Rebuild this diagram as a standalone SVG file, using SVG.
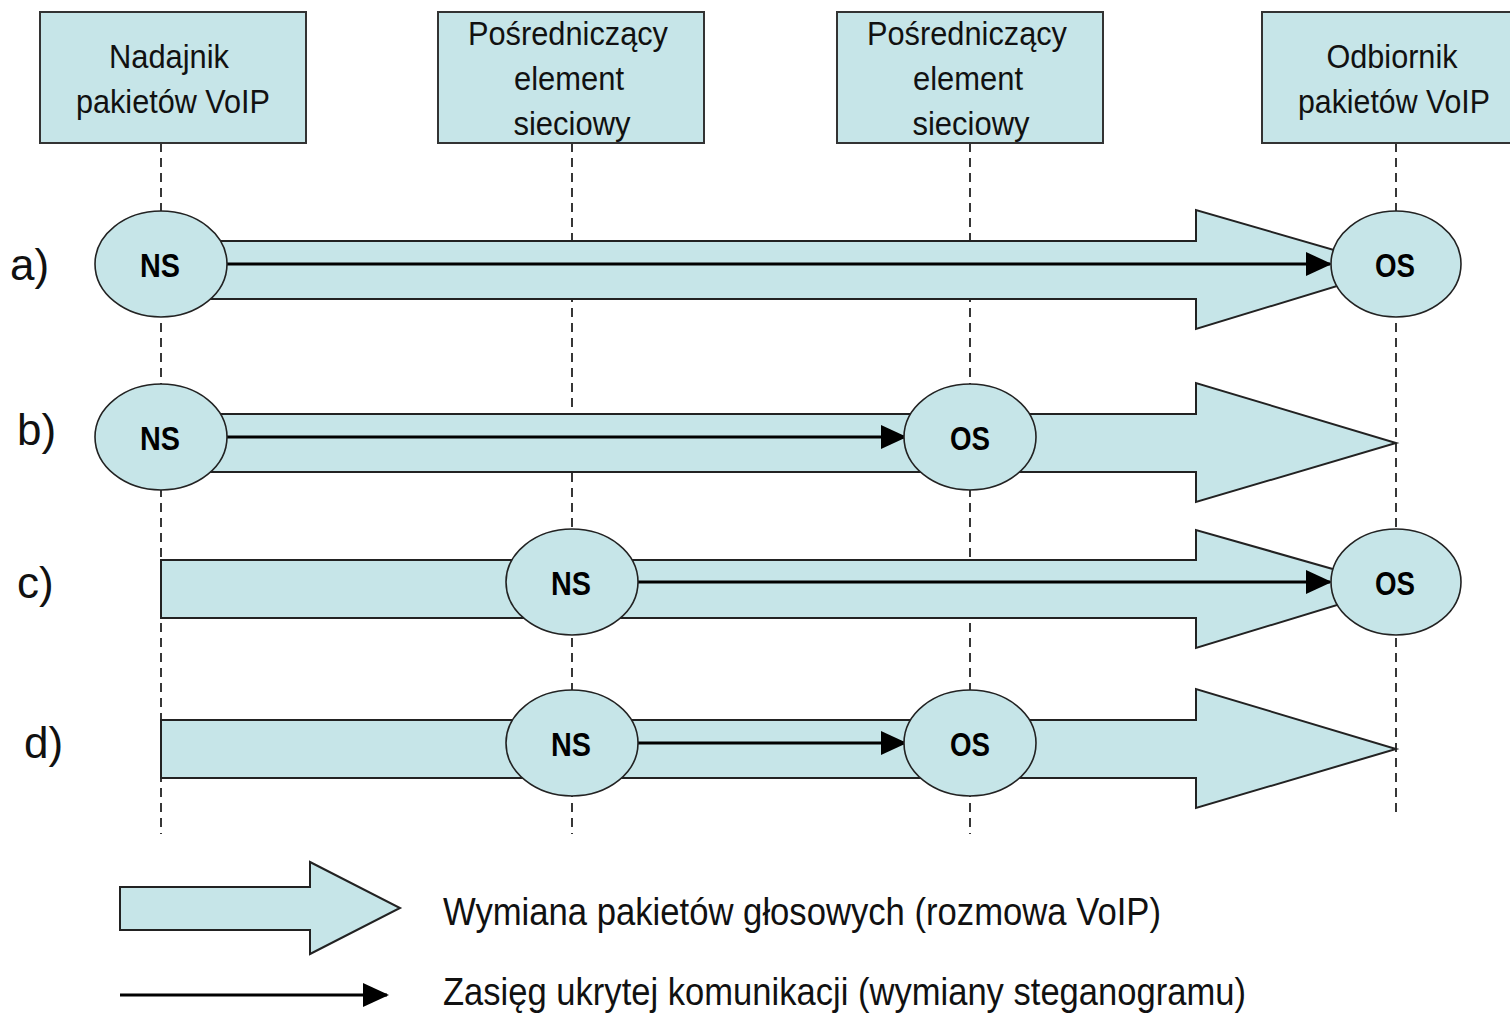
<svg xmlns="http://www.w3.org/2000/svg" width="1510" height="1014" viewBox="0 0 1510 1014">
  <style>
    .box { fill: #C6E5E8; stroke: #333; stroke-width: 2; }
    .fat { fill: #C6E5E8; stroke: #222; stroke-width: 2; }
    .node { fill: #C6E5E8; stroke: #222; stroke-width: 1.6; }
    .life { stroke: #222; stroke-width: 1.8; stroke-dasharray: 9 6; fill: none; }
    .thin { stroke: #000; stroke-width: 3; fill: none; marker-end: url(#tip); }
    .head { font-family: "Liberation Sans Narrow", "Liberation Sans", Arial, sans-serif; font-size: 34px; fill: #111; text-anchor: middle; }
    .ns { font-family: "Liberation Sans Narrow", "Liberation Sans", Arial, sans-serif; font-size: 33px; font-weight: bold; fill: #000; text-anchor: middle; }
    .row { font-family: "Liberation Sans", Arial, sans-serif; font-size: 44px; fill: #111; }
    .leg { font-family: "Liberation Sans Narrow", "Liberation Sans", Arial, sans-serif; font-size: 38px; fill: #111; }
  </style>
  <defs>
    <marker id="tip" markerUnits="userSpaceOnUse" markerWidth="26" markerHeight="26" viewBox="0 0 26 26" refX="24" refY="13" orient="auto">
      <path d="M0,1 L26,13 L0,25 Z" fill="#000"/>
    </marker>
  </defs>
  <rect width="1510" height="1014" fill="#fff"/>

  <!-- lifelines -->
  <g id="lifelines">
    <line class="life" x1="161" y1="143" x2="161" y2="834"/>
    <line class="life" x1="572" y1="143" x2="572" y2="834"/>
    <line class="life" x1="970" y1="143" x2="970" y2="834"/>
    <line class="life" x1="1396" y1="143" x2="1396" y2="816"/>
  </g>

  <!-- participants -->
  <g id="sender">
    <rect class="box" x="40" y="12" width="266" height="131"/>
    <text class="head" x="169" y="68" textLength="120" lengthAdjust="spacingAndGlyphs">Nadajnik</text>
    <text class="head" x="173" y="113" textLength="194" lengthAdjust="spacingAndGlyphs">pakietów VoIP</text>
  </g>
  <g id="relay1">
    <rect class="box" x="438" y="12" width="266" height="131"/>
    <text class="head" x="568" y="45" textLength="200" lengthAdjust="spacingAndGlyphs">Pośredniczący</text>
    <text class="head" x="569" y="90" textLength="110" lengthAdjust="spacingAndGlyphs">element</text>
    <text class="head" x="572" y="135" textLength="117" lengthAdjust="spacingAndGlyphs">sieciowy</text>
  </g>
  <g id="relay2">
    <rect class="box" x="837" y="12" width="266" height="131"/>
    <text class="head" x="967" y="45" textLength="200" lengthAdjust="spacingAndGlyphs">Pośredniczący</text>
    <text class="head" x="968" y="90" textLength="110" lengthAdjust="spacingAndGlyphs">element</text>
    <text class="head" x="971" y="135" textLength="117" lengthAdjust="spacingAndGlyphs">sieciowy</text>
  </g>
  <g id="receiver">
    <rect class="box" x="1262" y="12" width="251" height="131"/>
    <text class="head" x="1392" y="68" textLength="131" lengthAdjust="spacingAndGlyphs">Odbiornik</text>
    <text class="head" x="1394" y="113" textLength="192" lengthAdjust="spacingAndGlyphs">pakietów VoIP</text>
  </g>

  <!-- row labels -->
  <g id="labels">
    <text class="row" x="10" y="280">a)</text>
    <text class="row" x="17" y="445">b)</text>
    <text class="row" x="17" y="598">c)</text>
    <text class="row" x="24" y="758">d)</text>
  </g>

  <!-- voice traffic (block arrows) -->
  <g id="voice">
    <path class="fat" d="M161,241 H1196 V210 L1396,268 L1196,329 V299 H161 Z"/>
    <path class="fat" d="M161,414 H1196 V383 L1396,443 L1196,502 V472 H161 Z"/>
    <path class="fat" d="M161,560 H1196 V530 L1396,587 L1196,648 V618 H161 Z"/>
    <path class="fat" d="M161,720 H1196 V689 L1396,749 L1196,808 V778 H161 Z"/>
  </g>

  <!-- covert channel range -->
  <g id="connectors">
    <line class="thin" x1="226" y1="264" x2="1330" y2="264"/>
    <line class="thin" x1="226" y1="437" x2="905" y2="437"/>
    <line class="thin" x1="638" y1="582" x2="1330" y2="582"/>
    <line class="thin" x1="638" y1="743" x2="905" y2="743"/>
  </g>

  <!-- steganographic endpoints -->
  <g id="a-ns"><ellipse class="node" cx="161" cy="264" rx="66" ry="53"/><text class="ns" x="160" y="277" textLength="40" lengthAdjust="spacingAndGlyphs">NS</text></g>
  <g id="a-os"><ellipse class="node" cx="1396" cy="264" rx="65" ry="53"/><text class="ns" x="1395" y="277" textLength="40" lengthAdjust="spacingAndGlyphs">OS</text></g>
  <g id="b-ns"><ellipse class="node" cx="161" cy="437" rx="66" ry="53"/><text class="ns" x="160" y="450" textLength="40" lengthAdjust="spacingAndGlyphs">NS</text></g>
  <g id="b-os"><ellipse class="node" cx="970" cy="437" rx="66" ry="53"/><text class="ns" x="970" y="450" textLength="40" lengthAdjust="spacingAndGlyphs">OS</text></g>
  <g id="c-ns"><ellipse class="node" cx="572" cy="582" rx="66" ry="53"/><text class="ns" x="571" y="595" textLength="40" lengthAdjust="spacingAndGlyphs">NS</text></g>
  <g id="c-os"><ellipse class="node" cx="1396" cy="582" rx="65" ry="53"/><text class="ns" x="1395" y="595" textLength="40" lengthAdjust="spacingAndGlyphs">OS</text></g>
  <g id="d-ns"><ellipse class="node" cx="572" cy="743" rx="66" ry="53"/><text class="ns" x="571" y="756" textLength="40" lengthAdjust="spacingAndGlyphs">NS</text></g>
  <g id="d-os"><ellipse class="node" cx="970" cy="743" rx="66" ry="53"/><text class="ns" x="970" y="756" textLength="40" lengthAdjust="spacingAndGlyphs">OS</text></g>

  <!-- legend -->
  <g id="legend">
    <path class="fat" d="M120,887 H310 V862 L400,908 L310,954 V930 H120 Z"/>
    <text class="leg" x="443" y="925" textLength="718" lengthAdjust="spacingAndGlyphs">Wymiana pakietów głosowych (rozmowa VoIP)</text>
    <line class="thin" x1="120" y1="995" x2="387" y2="995"/>
    <text class="leg" x="443" y="1005" textLength="803" lengthAdjust="spacingAndGlyphs">Zasięg ukrytej komunikacji (wymiany steganogramu)</text>
  </g>
</svg>
